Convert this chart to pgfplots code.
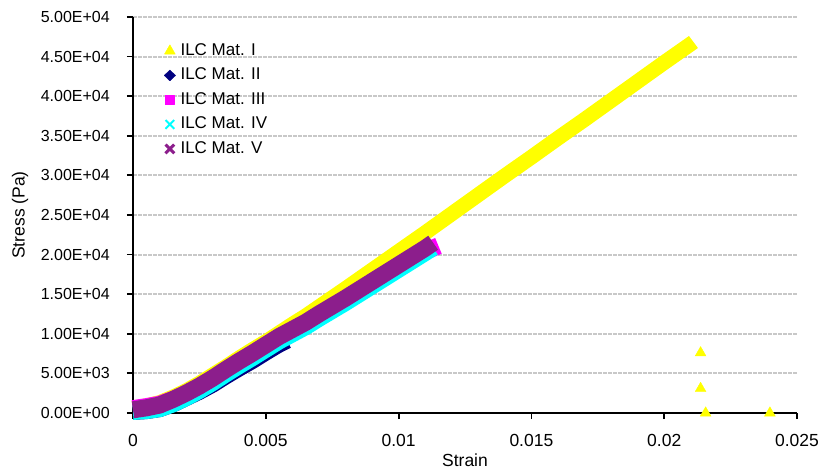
\documentclass[border=0pt]{standalone}
\usepackage{fontspec}
\setmainfont{Liberation Sans}
\usepackage{pgfplots}
\pgfplotsset{compat=1.18}
\definecolor{cI}{RGB}{255,255,0}
\definecolor{cII}{RGB}{0,0,128}
\definecolor{cIII}{RGB}{255,0,255}
\definecolor{cIV}{RGB}{0,255,255}
\definecolor{cV}{RGB}{140,30,140}
\definecolor{gridgray}{RGB}{200,200,200}

\pgfplotstableread{
x y
0 600
0.0005 900
0.001 1300
0.0015 2000
0.002 2800
0.0025 3750
0.003 4800
0.0035 5850
0.004 6950
0.0045 8000
0.005 9000
0.0055 10100
0.006 11200
0.0065 12250
0.007 13400
0.0075 14550
0.008 15700
0.009 18050
0.01 20400
0.011 22750
0.012 25150
0.013 27550
0.014 29950
0.015 32300
0.016 34700
0.017 37050
0.018 39450
0.019 41850
0.02 44250
0.021 46600
0.0211 46850
}\matI

\pgfplotstableread{
x y
0 200
0.0005 300
0.001 550
0.0015 1150
0.002 1950
0.0025 2750
0.003 3650
0.0035 4700
0.004 5700
0.0045 6650
0.005 7700
0.0055 8700
0.0058 9200
}\matII

\pgfplotstableread{
x y
0 550
0.0005 800
0.001 1100
0.0015 1700
0.002 2400
0.0025 3250
0.003 4200
0.0035 5250
0.004 6300
0.0045 7300
0.005 8300
0.0055 9350
0.006 10250
0.0065 11150
0.007 12200
0.0075 13200
0.008 14200
0.0085 15250
0.009 16300
0.0095 17300
0.01 18350
0.0105 19350
0.011 20400
0.0115 21100
}\matIII

\pgfplotstableread{
x y
0 200
0.0005 300
0.001 550
0.0015 1150
0.002 1950
0.0025 2850
0.003 3850
0.0035 4950
0.004 6000
0.0045 7000
0.005 8050
0.0055 9100
0.006 10000
0.0065 10900
0.007 11950
0.0075 12950
0.008 13950
0.0085 15000
0.009 16050
0.0095 17100
0.01 18150
0.0105 19200
0.011 20250
0.0113 20900
}\matIV

\pgfplotstableread{
x y
0 400
0.0005 650
0.001 1000
0.0015 1700
0.002 2500
0.0025 3400
0.003 4400
0.0035 5500
0.004 6550
0.0045 7550
0.005 8600
0.0055 9650
0.006 10550
0.0065 11450
0.007 12500
0.0075 13500
0.008 14500
0.0085 15550
0.009 16600
0.0095 17650
0.01 18700
0.0105 19750
0.011 20800
0.0113 21500
}\matV

\begin{document}
\fontsize{16bp}{19bp}\selectfont
\begin{tikzpicture}
\begin{axis}[
  at={(0,0)}, anchor=south west,
  scale only axis, width=664bp, height=396bp,
  xmin=0, xmax=0.025, ymin=0, ymax=50000,
  clip=false,
  axis x line*=bottom, axis y line*=left,
  axis line style={-, line width=1.8bp, black},
  xtick={0,0.005,0.01,0.015,0.02,0.025},
  xticklabels={0,0.005,0.01,0.015,0.02,0.025},
  ytick={0,5000,10000,15000,20000,25000,30000,35000,40000,45000,50000},
  yticklabels={0.00E+00,5.00E+03,1.00E+04,1.50E+04,2.00E+04,2.50E+04,3.00E+04,3.50E+04,4.00E+04,4.50E+04,5.00E+04},
  scaled x ticks=false, scaled y ticks=false,
  tick align=outside, major tick length=6bp,
  tick style={line width=1.8bp, black},
  ymajorgrids,
  grid style={gridgray, line width=2bp, dash pattern=on 4bp off 1bp},
  xticklabel style={font=\fontsize{17.5bp}{21bp}\selectfont, anchor=north, inner sep=0pt},
  xticklabel shift=15bp,
  yticklabel style={anchor=east, inner sep=0pt},
  yticklabel shift=17bp,
  xlabel={Strain}, ylabel={Stress (Pa)},
  xlabel style={font=\fontsize{17.5bp}{21bp}\selectfont, at={([yshift=-53bp]axis description cs:0.5,0)}, anchor=base},
  ylabel style={font=\fontsize{17.5bp}{21bp}\selectfont, at={([xshift=-113bp]axis description cs:0,0.5)}, anchor=center},
  legend style={at={(0.0467,0.9457)}, anchor=north west, draw=none, fill=none,
    inner sep=0pt, row sep=0pt, font=\fontsize{17bp}{20bp}\selectfont,
    nodes={text height=12bp, text depth=3.5bp, inner ysep=4.5bp, inner xsep=5bp},
    cells={anchor=west}},
  legend cell align=left,
]
\addplot[cI, line width=15bp, line join=round, line cap=butt, no markers,
  legend image code/.code={\draw[cI, fill=cI, line width=0.4bp] plot[mark=triangle*, mark size=6.2bp] coordinates {(0bp,0bp)};}]
  table[x=x,y=y] {\matI};
\addlegendentry{ILC Mat. I}
\addplot[only marks, mark=triangle*, mark size=6.2bp, draw=cI, fill=cI, forget plot]
  coordinates {(0.02137,7600) (0.02137,3100) (0.02156,0) (0.02398,0)};
\addplot[cII, line width=17bp, line join=round, line cap=butt, no markers,
  legend image code/.code={\draw[cII, fill=cII, line width=0.4bp] plot[mark=diamond*, mark size=5.4bp, mark options={xscale=1.4}] coordinates {(0bp,0bp)};}]
  table[x=x,y=y] {\matII};
\addlegendentry{ILC Mat. II}
\addplot[cIII, line width=17bp, line join=round, line cap=butt, no markers,
  legend image code/.code={\draw[cIII, fill=cIII, line width=0.4bp] plot[mark=square*, mark size=4.6bp] coordinates {(0bp,0bp)};}]
  table[x=x,y=y] {\matIII};
\addlegendentry{ILC Mat. III}
\addplot[cIV, line width=17bp, line join=round, line cap=butt, no markers,
  legend image code/.code={\draw[cIV, line width=2bp] plot[mark=x, mark size=6.2bp] coordinates {(0bp,0bp)};}]
  table[x=x,y=y] {\matIV};
\addlegendentry{ILC Mat. IV}
\addplot[cV, line width=17bp, line join=round, line cap=butt, no markers,
  legend image code/.code={\draw[cV, line width=3bp] plot[mark=x, mark size=6.2bp] coordinates {(0bp,0bp)};}]
  table[x=x,y=y] {\matV};
\addlegendentry{ILC Mat. V}
\end{axis}
\pgfresetboundingbox
\path[use as bounding box] (-133bp,-60bp) rectangle (687bp,413bp);
\end{tikzpicture}
\end{document}
